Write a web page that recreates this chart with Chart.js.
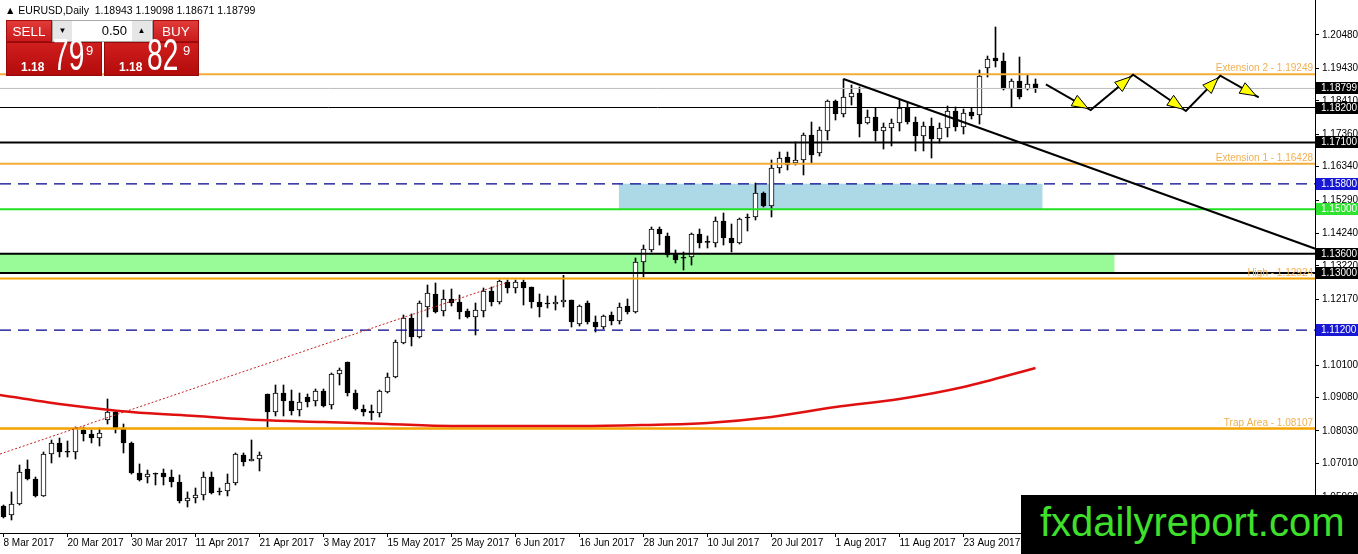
<!DOCTYPE html>
<html>
<head>
<meta charset="utf-8">
<title>EURUSD Daily</title>
<script src="https://cdn.jsdelivr.net/npm/chart.js@4.4.1/dist/chart.umd.min.js"></script>
<style>
  html, body { margin: 0; padding: 0; background: #fff; }
  #wrap { position: relative; width: 1358px; height: 554px; overflow: hidden; font-family: 'Liberation Sans', Arial, sans-serif; }
  #chart { position: absolute; left: 0; top: 0; }
  .abs { position: absolute; white-space: nowrap; }
  #hdr { left: 5px; top: 4px; font-size: 10.5px; color: #000; line-height: 13px; }
  .lbl { top: 20px; height: 22px; width: 46px; background: linear-gradient(#e23a3a, #c91b1b); color: #fff; font-size: 13.5px; line-height: 21px; text-align: center; box-sizing: border-box; border: 1px solid #a30c0c; }
  .px { top: 42px; height: 34px; background: linear-gradient(#d01e1e, #b30b0b); box-sizing: border-box; border: 1px solid #960909; }
  .small { color: #fff; font-size: 12px; font-weight: bold; line-height: 1; }
  .big { color: #fff; font-size: 44px; line-height: 1; transform: scaleX(0.64); transform-origin: left top; }
  .sup { color: #fff; font-size: 13px; line-height: 1; }
  #ctrl { left: 52px; top: 20px; width: 101px; height: 22px; background: #f2f2f2; border: 1px solid #a8a8a8; box-sizing: border-box; }
  .btn { top: 21px; width: 19px; height: 20px; background: #e6e6e6; font-size: 8px; line-height: 20px; text-align: center; color: #000; }
  #inp { left: 72px; top: 21px; width: 60px; height: 20px; background: #fff; font-size: 13px; line-height: 20px; text-align: right; box-sizing: border-box; padding-right: 5px; color: #000; }
  #logo { left: 1021px; top: 495px; width: 337px; height: 59px; background: #000; }
  #logoText { left: 19px; top: 7px; font-size: 40px; line-height: 1; color: #3fe02c; }
</style>
</head>
<body>
<div id="wrap">
  <canvas id="chart" width="1358" height="554"></canvas>
  <div id="hdr" class="abs">&#9650; EURUSD,Daily&nbsp; 1.18943 1.19098 1.18671 1.18799</div>
  <div class="abs lbl" style="left:6px;">SELL</div>
  <div id="ctrl" class="abs"></div>
  <div class="abs btn" style="left:53px;">&#9660;</div>
  <div id="inp" class="abs">0.50</div>
  <div class="abs btn" style="left:132px;">&#9650;</div>
  <div class="abs lbl" style="left:153px;">BUY</div>
  <div class="abs px" style="left:6px; width:96px;"></div>
  <div class="abs px" style="left:104px; width:95px;"></div>
  <div class="abs small" style="left:21px; top:61px;">1.18</div>
  <div class="abs big" style="left:53px; top:33px;">79</div>
  <div class="abs sup" style="left:86px; top:44px;">9</div>
  <div class="abs small" style="left:119px; top:61px;">1.18</div>
  <div class="abs big" style="left:147px; top:33px;">82</div>
  <div class="abs sup" style="left:183px; top:44px;">9</div>
  <div id="logo" class="abs"><div id="logoText" class="abs">fxdailyreport.com</div></div>
</div>
<script>
// x axis: one slot per daily bar, labels every 8 bars
const tickBars = [0, 8, 16, 24, 32, 40, 48, 56, 64, 72, 80, 88, 96, 104, 112, 120];
const tickLabels = ['8 Mar 2017', '20 Mar 2017', '30 Mar 2017', '11 Apr 2017', '21 Apr 2017', '3 May 2017',
    '15 May 2017', '25 May 2017', '6 Jun 2017', '16 Jun 2017', '28 Jun 2017', '10 Jul 2017',
    '20 Jul 2017', '1 Aug 2017', '11 Aug 2017', '23 Aug 2017'];
const priceTicks = [1.20480, 1.19430, 1.18410, 1.17360, 1.16340, 1.15290, 1.14240, 1.13220,
    1.12170, 1.11150, 1.10100, 1.09080, 1.08030, 1.07010, 1.05960];

// daily candles
const openP = [
    1.05672, 1.05388, 1.05734, 1.06835, 1.0652, 1.05986, 1.07306, 1.07652, 1.0738, 1.07369,
    1.08061, 1.07935, 1.07809, 1.08375, 1.08627, 1.08092, 1.07652, 1.06709, 1.06583, 1.0668,
    1.06709, 1.06583, 1.06426, 1.05829, 1.05923, 1.06017, 1.06583, 1.0612, 1.06143, 1.06394,
    1.07275, 1.07086, 1.07149, 1.09193, 1.08627, 1.09224, 1.08973, 1.0869, 1.09098, 1.08973,
    1.09287, 1.08847, 1.09821, 1.10199, 1.09224, 1.08721, 1.08658, 1.08595, 1.09256, 1.09727,
    1.10796, 1.11582, 1.10985, 1.11928, 1.12337, 1.11802, 1.12179, 1.12085, 1.11802, 1.11614,
    1.11802, 1.12431, 1.12085, 1.12714, 1.12525, 1.12714, 1.12557, 1.12085, 1.12054, 1.12022,
    1.12085, 1.12148, 1.11393, 1.12054, 1.11456, 1.11299, 1.11676, 1.11488, 1.11959, 1.11771,
    1.13343, 1.1372, 1.1438, 1.1416, 1.13594, 1.1348, 1.135, 1.14223, 1.1398, 1.1394,
    1.14632, 1.14097, 1.1394, 1.14758, 1.14758, 1.15512, 1.15103, 1.16298, 1.16644, 1.16455,
    1.1655, 1.17336, 1.1677, 1.17461, 1.18405, 1.17996, 1.1853, 1.18656, 1.17713, 1.17902,
    1.17461, 1.17556, 1.17713, 1.18184, 1.17744, 1.17304, 1.17619, 1.1721, 1.17556, 1.1809,
    1.17587, 1.18059, 1.17964, 1.19442, 1.19756, 1.19662, 1.18782, 1.19033, 1.18782, 1.18943
];
const highP = [
    1.05703, 1.06112, 1.0696, 1.07118, 1.06583, 1.07369, 1.07746, 1.07809, 1.07715, 1.08155,
    1.08155, 1.08061, 1.08124, 1.09035, 1.08658, 1.08249, 1.07684, 1.06992, 1.06803, 1.06709,
    1.06835, 1.06803, 1.06646, 1.06112, 1.06237, 1.0674, 1.0674, 1.06237, 1.06677, 1.07338,
    1.07338, 1.07746, 1.07369, 1.09193, 1.09476, 1.09476, 1.09318, 1.09224, 1.09193, 1.0935,
    1.0935, 1.09853, 1.1001, 1.10199, 1.09318, 1.08847, 1.08847, 1.09318, 1.09853, 1.1089,
    1.11676, 1.11708, 1.12117, 1.1262, 1.12682, 1.12462, 1.12494, 1.12305, 1.11865, 1.12054,
    1.12525, 1.12557, 1.12777, 1.12777, 1.12777, 1.12777, 1.12557, 1.12337, 1.12274, 1.12274,
    1.12924, 1.12148, 1.11991, 1.12117, 1.11645, 1.11676, 1.11771, 1.12054, 1.12179, 1.13468,
    1.13877, 1.14443, 1.14443, 1.14254, 1.1372, 1.13657, 1.14254, 1.1438, 1.1416, 1.14758,
    1.14883, 1.14537, 1.14726, 1.14852, 1.15826, 1.15544, 1.1655, 1.16801, 1.16801, 1.17116,
    1.17398, 1.17744, 1.17587, 1.18436, 1.18436, 1.19096, 1.18908, 1.18845, 1.18122, 1.18184,
    1.17713, 1.17839, 1.18436, 1.18342, 1.17902, 1.17744, 1.1787, 1.17713, 1.18247, 1.18216,
    1.18153, 1.18184, 1.19379, 1.19819, 1.20731, 1.19914, 1.19096, 1.19788, 1.19222, 1.19098
];
const lowP = [
    1.05295, 1.05231, 1.05703, 1.06489, 1.05954, 1.0597, 1.07023, 1.07212, 1.07212, 1.07149,
    1.07715, 1.07652, 1.07558, 1.08249, 1.07966, 1.07338, 1.06677, 1.06457, 1.06394, 1.06332,
    1.06332, 1.06269, 1.05766, 1.0564, 1.05766, 1.0586, 1.06049, 1.06017, 1.05986, 1.06332,
    1.06929, 1.07086, 1.06772, 1.08155, 1.08501, 1.08501, 1.08532, 1.08501, 1.08784, 1.08815,
    1.08784, 1.08721, 1.09476, 1.0913, 1.0869, 1.08501, 1.08375, 1.0847, 1.09224, 1.097,
    1.1077, 1.10702, 1.10953, 1.11614, 1.11739, 1.11645, 1.11959, 1.11551, 1.1158, 1.11048,
    1.11614, 1.11959, 1.12022, 1.12368, 1.12368, 1.11991, 1.11896, 1.11614, 1.11896, 1.11834,
    1.11928, 1.11299, 1.11331, 1.11393, 1.11142, 1.11236, 1.11362, 1.11393, 1.11708, 1.11739,
    1.12871, 1.13657, 1.13877, 1.135, 1.13311, 1.13091, 1.13248, 1.13783, 1.13783, 1.13814,
    1.13877, 1.13657, 1.13909, 1.14317, 1.14663, 1.15072, 1.14758, 1.16141, 1.16235, 1.16392,
    1.16078, 1.16455, 1.16675, 1.1718, 1.17807, 1.17902, 1.18279, 1.17273, 1.17681, 1.17147,
    1.16895, 1.1699, 1.17461, 1.17681, 1.16833, 1.16833, 1.16612, 1.17084, 1.17273, 1.17461,
    1.17367, 1.17839, 1.17681, 1.19159, 1.19474, 1.1875, 1.18216, 1.18467, 1.1875, 1.18671
];
const closeP = [
    1.05326, 1.05734, 1.0674, 1.0652, 1.05986, 1.07306, 1.07652, 1.07369, 1.0736, 1.08124,
    1.07935, 1.07809, 1.07966, 1.08627, 1.08124, 1.07652, 1.06709, 1.06489, 1.06677, 1.0667,
    1.06583, 1.06426, 1.05829, 1.05923, 1.06017, 1.06583, 1.0608, 1.0611, 1.06394, 1.07306,
    1.07055, 1.07149, 1.07275, 1.08627, 1.09224, 1.08973, 1.08658, 1.08941, 1.08941, 1.09287,
    1.08815, 1.09821, 1.09947, 1.09224, 1.08721, 1.08627, 1.08595, 1.09287, 1.09727, 1.10828,
    1.11582, 1.10985, 1.12054, 1.12368, 1.11771, 1.12179, 1.12054, 1.11771, 1.11614, 1.11834,
    1.12431, 1.12085, 1.12745, 1.12525, 1.12714, 1.12525, 1.12085, 1.11928, 1.12022, 1.12085,
    1.12148, 1.11456, 1.11959, 1.11456, 1.11299, 1.11645, 1.11488, 1.11928, 1.11771, 1.13343,
    1.13751, 1.1438, 1.14223, 1.13563, 1.13406, 1.1346, 1.14223, 1.1394, 1.1396, 1.14632,
    1.14097, 1.1394, 1.14695, 1.14726, 1.15512, 1.15103, 1.16298, 1.16612, 1.16392, 1.1655,
    1.17336, 1.16707, 1.17493, 1.18405, 1.17996, 1.1853, 1.18656, 1.17681, 1.17902, 1.17461,
    1.17587, 1.17713, 1.18184, 1.17744, 1.17304, 1.17619, 1.1721, 1.17556, 1.1809, 1.17587,
    1.18027, 1.17933, 1.19191, 1.19725, 1.19662, 1.18782, 1.19033, 1.1853, 1.18939, 1.18799
];

// moving average, sampled every 8 bars (first point at the left edge)
const maBars = [-0.44, 8, 16, 24, 32, 40, 48, 56, 64, 72, 80, 88, 96, 104, 112, 120, 129];
const maValues = [1.0916, 1.08847, 1.08627, 1.08501, 1.08375, 1.08312, 1.08249, 1.08186, 1.08186,
    1.08186, 1.08218, 1.08281, 1.0847, 1.08784, 1.09035, 1.09412, 1.1001];

// drawn objects
const trendBars = [105, 164];
const trendPrices = [1.19096, 1.13757];
const dotBars = [-0.44, 63.1];
const dotPrices = [1.07306, 1.12714];
const zigBars = [130.3, 135.9, 141.2, 147.8, 152.1, 156.9];
const zigPrices = [1.1893, 1.1812, 1.1923, 1.1809, 1.1920, 1.1852];
const levelNames = ['Extension 2 - 1.19249', 'Extension 1 - 1.16428', 'High - 1.12924', 'Trap Area - 1.08107'];
const levelPrices = [1.19249, 1.16428, 1.12824, 1.08107];
const markPrices = [1.18799, 1.18200, 1.17100, 1.15800, 1.15000, 1.13600, 1.13000, 1.11200];
const blueZone = [76.9, 129.9, 1.158, 1.150];
const greenZone = [-0.44, 138.9, 1.136, 1.130];

const X_MIN = -0.4375;
const X_MAX = X_MIN + 1315 / 8;

const markBg = ['#000', '#000', '#000', '#1717d4', '#2fe22f', '#000', '#000', '#1717d4'];

Chart.defaults.font.family = "'Liberation Sans', Arial, sans-serif";
Chart.defaults.font.size = 10;
Chart.defaults.color = '#000';

const bars = openP.map((v, i) => i);
const bodyData = bars.map(i => ({x: i, y: [openP[i], closeP[i]]}));
const wickData = bars.map(i => ({x: i, y: [lowP[i], highP[i]]}));
const bodyColors = bars.map(i => closeP[i] >= openP[i] ? '#ffffff' : '#000000');

function hLine(price, color, width, dash) {
    return {
        type: 'line', data: [{x: X_MIN, y: price}, {x: X_MAX, y: price}],
        borderColor: color, borderWidth: width, borderDash: dash || [],
        pointRadius: 0, fill: false, order: -1
    };
}
function zone(z, color) {
    return {
        type: 'line', data: [{x: z[0], y: z[2]}, {x: z[1], y: z[2]}],
        fill: {value: z[3]}, backgroundColor: color, borderColor: 'transparent',
        borderWidth: 0, pointRadius: 0, order: 5
    };
}

const overlay = {
    id: 'overlay',
    afterDatasetsDraw(chart) {
        const ctx = chart.ctx, xs = chart.scales.x, ys = chart.scales.y;
        ctx.save();
        // arrow heads on the zigzag
        for (let k = 1; k < zigBars.length; k++) {
            const x0 = xs.getPixelForValue(zigBars[k - 1]), y0 = ys.getPixelForValue(zigPrices[k - 1]);
            const x1 = xs.getPixelForValue(zigBars[k]), y1 = ys.getPixelForValue(zigPrices[k]);
            const len = Math.hypot(x1 - x0, y1 - y0);
            const ux = (x1 - x0) / len, uy = (y1 - y0) / len;
            const tx = x1 - ux * 3, ty = y1 - uy * 3;
            const bx = tx - ux * 16, by = ty - uy * 16;
            ctx.beginPath();
            ctx.moveTo(tx, ty);
            ctx.lineTo(bx - uy * 6, by + ux * 6);
            ctx.lineTo(bx + uy * 6, by - ux * 6);
            ctx.closePath();
            ctx.fillStyle = '#ffff00';
            ctx.fill();
            ctx.lineWidth = 1;
            ctx.strokeStyle = '#000';
            ctx.stroke();
        }
        // level captions
        ctx.font = "10px 'Liberation Sans', Arial, sans-serif";
        ctx.fillStyle = '#f0b050';
        ctx.textAlign = 'right';
        ctx.textBaseline = 'middle';
        levelNames.forEach((t, k) => {
            ctx.fillText(t, chart.chartArea.right - 2, ys.getPixelForValue(levelPrices[k]) - 5.5);
        });
        ctx.restore();
    },
    afterDraw(chart) {
        const ctx = chart.ctx, ys = chart.scales.y;
        const left = chart.chartArea.right + 1;
        ctx.save();
        ctx.font = "10px 'Liberation Sans', Arial, sans-serif";
        ctx.textAlign = 'left';
        ctx.textBaseline = 'middle';
        markPrices.forEach((p, k) => {
            const py = Math.round(ys.getPixelForValue(p));
            ctx.fillStyle = markBg[k];
            ctx.fillRect(left, py - 6, 42, 12);
            ctx.fillStyle = '#fff';
            ctx.fillText(p.toFixed(5), left + 5, py);
        });
        ctx.restore();
    }
};

new Chart(document.getElementById('chart'), {
    type: 'bar',
    data: {
        datasets: [
            zone(blueZone, '#add8e6'),
            zone(greenZone, '#98fb98'),
            {
                type: 'bar', data: wickData, order: 1, grouped: false,
                backgroundColor: '#000', borderWidth: 0, barThickness: 1
            },
            {
                type: 'bar', data: bodyData, order: 0, grouped: false,
                backgroundColor: bodyColors, borderColor: '#000', borderWidth: 1,
                borderSkipped: false, barThickness: 5, minBarLength: 1
            },
            hLine(levelPrices[0], '#f2ac3a', 2),
            hLine(markPrices[0], '#bdbdbd', 1),
            hLine(markPrices[1], '#000', 1),
            hLine(markPrices[2], '#000', 2),
            hLine(levelPrices[1], '#f2ac3a', 2),
            hLine(markPrices[3], '#00008b', 1.3, [11, 7]),
            hLine(markPrices[4], '#22e022', 2),
            hLine(markPrices[5], '#000', 2),
            hLine(markPrices[6], '#000', 2),
            hLine(levelPrices[2], '#f5a300', 2),
            hLine(markPrices[7], '#00008b', 1.3, [11, 7]),
            hLine(levelPrices[3], '#f5a300', 2.5),
            {
                type: 'line', data: maBars.map((b, k) => ({x: b, y: maValues[k]})),
                borderColor: '#e01010', borderWidth: 2.5, pointRadius: 0,
                cubicInterpolationMode: 'monotone', fill: false, order: -2
            },
            {
                type: 'line', data: dotBars.map((b, k) => ({x: b, y: dotPrices[k]})),
                borderColor: '#c82020', borderWidth: 1, borderDash: [2, 2],
                pointRadius: 0, fill: false, order: -2
            },
            {
                type: 'line', data: trendBars.map((b, k) => ({x: b, y: trendPrices[k]})),
                borderColor: '#000', borderWidth: 2, pointRadius: 0, fill: false, order: -2
            },
            {
                type: 'line', data: zigBars.map((b, k) => ({x: b, y: zigPrices[k]})),
                borderColor: '#000', borderWidth: 2, pointRadius: 0, fill: false, order: -3
            }
        ]
    },
    options: {
        responsive: false,
        animation: false,
        events: [],
        layout: {padding: 0},
        plugins: {
            legend: {display: false},
            tooltip: {enabled: false},
            filler: {propagate: false, drawTime: 'beforeDatasetsDraw'}
        },
        scales: {
            x: {
                type: 'linear', min: X_MIN, max: X_MAX, offset: false,
                grid: {display: true, drawOnChartArea: false, drawTicks: true, tickLength: 4, color: '#000', offset: false},
                border: {display: true, color: '#000', width: 1},
                afterBuildTicks: scale => { scale.ticks = tickBars.map(v => ({value: v})); },
                ticks: {
                    autoSkip: false, maxRotation: 0, align: 'start', padding: 0,
                    callback: value => {
                        const k = tickBars.indexOf(value);
                        return k >= 0 ? tickLabels[k] : '';
                    }
                },
                afterFit: scale => {
                    scale.height = 21;
                    scale.paddingLeft = 0;
                    scale.paddingRight = 0;
                }
            },
            y: {
                type: 'linear', position: 'right', min: 1.04822, max: 1.21580,
                grid: {display: true, drawOnChartArea: false, drawTicks: true, tickLength: 4, color: '#000'},
                border: {display: true, color: '#000', width: 1},
                afterBuildTicks: scale => { scale.ticks = priceTicks.map(v => ({value: v})); },
                ticks: {
                    autoSkip: false, padding: 3,
                    callback: value => value.toFixed(5)
                },
                afterFit: scale => {
                    scale.width = 43;
                    scale.paddingTop = 0;
                    scale.paddingBottom = 0;
                }
            }
        }
    },
    plugins: [overlay]
});
</script>
</body>
</html>
